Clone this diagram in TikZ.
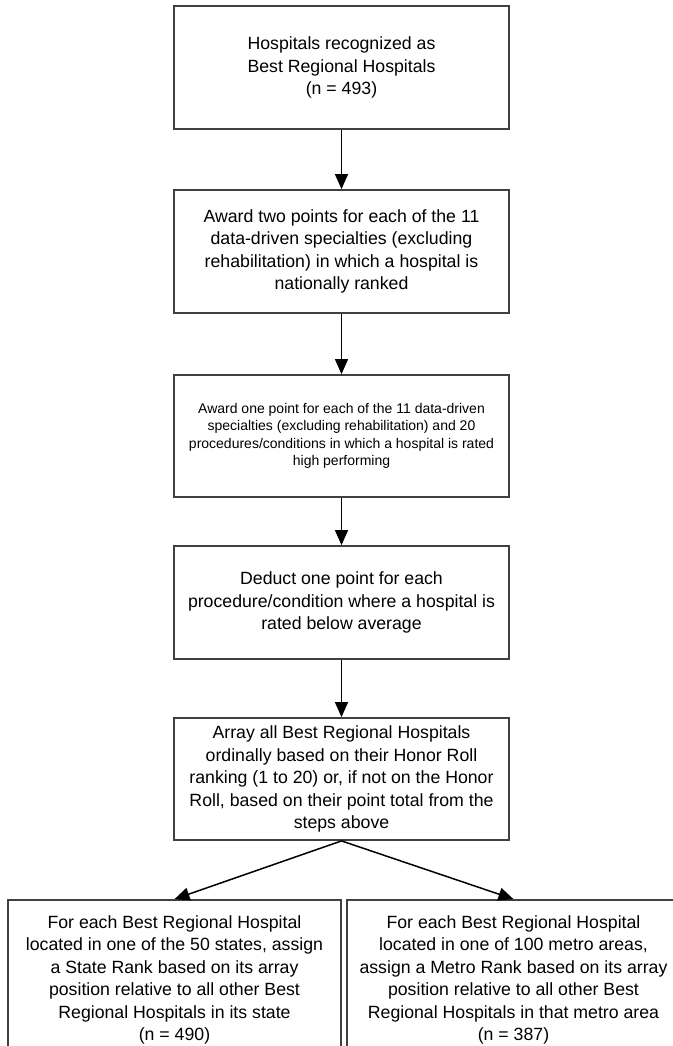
\documentclass[tikz,border=0pt]{standalone}
\usepackage{fontspec}
\setmainfont{Liberation Sans}
\usetikzlibrary{positioning,arrows.meta}
\tikzset{stepbox/.style={draw=black!75,line width=1.8pt,rectangle,minimum width=335pt,minimum height=123pt,inner sep=0pt,align=center,text=black,font=\fontsize{17.7}{22.5}\selectfont},
rankbox/.style={stepbox,minimum width=333pt,minimum height=160pt}}
\tikzstyle{arrow} = [line width=1.5pt,-{Triangle[width=13pt,length=15pt]}]

\begin{document}
\begin{tikzpicture}[x=1pt,y=-1pt]
		\useasboundingbox (0,0) rectangle (672,1046);

		\node[stepbox] (found) at (341.5,67.5) {Hospitals recognized as\\Best Regional Hospitals\\(n = 493)};
		\node[stepbox] (twopts) at (341.5,251.5) {Award two points for each of the 11\\data-driven specialties (excluding\\rehabilitation) in which a hospital is\\nationally ranked};
		\node[stepbox, minimum height=122pt, font=\fontsize{14}{17.5}\selectfont] (onept) at (341.5,436) {Award one point for each of the 11 data-driven\\specialties (excluding rehabilitation) and 20\\procedures/conditions in which a hospital is rated\\high performing};
		\node[stepbox, minimum height=113pt] (deduct) at (341.5,602.5) {Deduct one point for each\\procedure/condition where a hospital is\\rated below average};
		\node[stepbox, minimum height=122pt] (array) at (341.5,779) {Array all Best Regional Hospitals\\ordinally based on their Honor Roll\\ranking (1 to 20) or, if not on the Honor\\Roll, based on their point total from the\\steps above};

		% state and metro ranks
		\node[rankbox] (state) at (174.5,980) {For each Best Regional Hospital\\located in one of the 50 states, assign\\a State Rank based on its array\\position relative to all other Best\\Regional Hospitals in its state\\(n = 490)};
		\node[rankbox] (metro) at (513.5,980) {For each Best Regional Hospital\\located in one of 100 metro areas,\\assign a Metro Rank based on its array\\position relative to all other Best\\Regional Hospitals in that metro area\\(n = 387)};

		\draw[arrow] (found) -- (twopts);
		\draw[arrow] (twopts) -- (onept);
		\draw[arrow] (onept) -- (deduct);
		\draw[arrow] (deduct) -- (array);
		\draw[arrow] (array.south) -- (state.north);
		\draw[arrow] (array.south) -- (metro.north);
	\end{tikzpicture}
\end{document}
